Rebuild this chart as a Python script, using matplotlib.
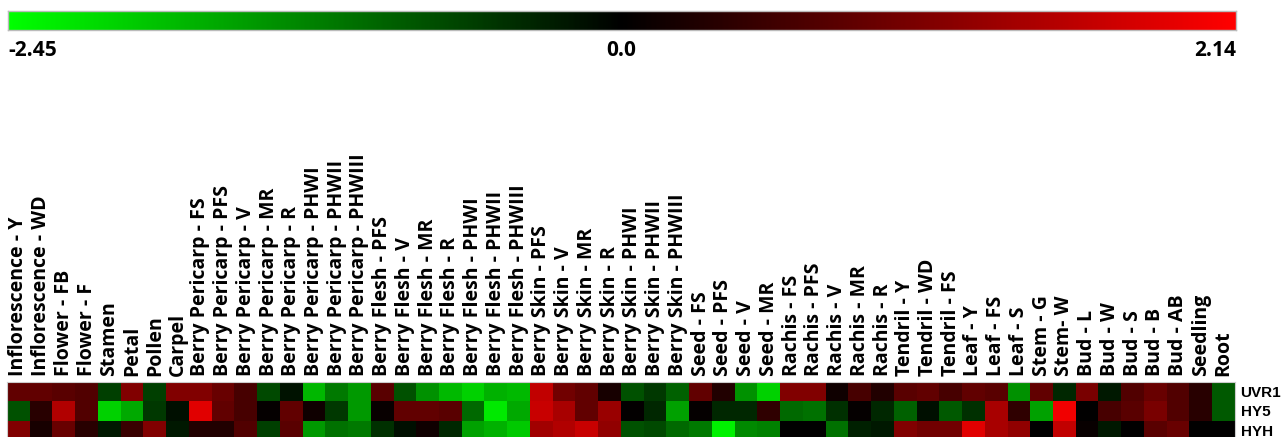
import matplotlib
matplotlib.use('Agg')
import matplotlib.pyplot as plt
import numpy as np
from matplotlib.colors import LinearSegmentedColormap, TwoSlopeNorm

# Expression heatmap (log ratio), green = low, red = high

samples = [
    'Inflorescence - Y', 'Inflorescence - WD', 'Flower - FB', 'Flower - F',
    'Stamen', 'Petal', 'Pollen', 'Carpel',
    'Berry Pericarp - FS', 'Berry Pericarp - PFS', 'Berry Pericarp - V',
    'Berry Pericarp - MR', 'Berry Pericarp - R', 'Berry Pericarp - PHWI',
    'Berry Pericarp - PHWII', 'Berry Pericarp - PHWIII',
    'Berry Flesh - PFS', 'Berry Flesh - V', 'Berry Flesh - MR',
    'Berry Flesh - R', 'Berry Flesh - PHWI', 'Berry Flesh - PHWII',
    'Berry Flesh - PHWIII',
    'Berry Skin - PFS', 'Berry Skin - V', 'Berry Skin - MR', 'Berry Skin - R',
    'Berry Skin - PHWI', 'Berry Skin - PHWII', 'Berry Skin - PHWIII',
    'Seed - FS', 'Seed - PFS', 'Seed - V', 'Seed - MR',
    'Rachis - FS', 'Rachis - PFS', 'Rachis - V', 'Rachis - MR', 'Rachis - R',
    'Tendril - Y', 'Tendril - WD', 'Tendril - FS',
    'Leaf - Y', 'Leaf - FS', 'Leaf - S',
    'Stem - G', 'Stem- W',
    'Bud - L', 'Bud - W', 'Bud - S', 'Bud - B', 'Bud - AB',
    'Seedling', 'Root',
]

genes = ['UVR1', 'HY5', 'HYH']

uvr1 = [0.81, 0.81, 0.75, 0.67, -0.61, 1.07, -0.61, 1.07, 1.07, 0.87,
        0.60, -0.69, -0.19, -1.75, -1.15, -1.46, 0.74, -0.77, -1.38, -1.77,
        -2.00, -1.69, -1.77, 1.61, 0.94, 0.81, 0.20, -0.77, -0.54, -0.92,
        0.81, 0.27, -1.38, -2.00, 1.07, 1.07, 0.13, 0.60, 0.27, 0.74,
        0.81, 0.60, 0.81, 0.74, -1.38, 0.81, -0.38, 1.01, -0.23, 0.67,
        0.87, 0.67, 0.34, -0.85]

hy5 = [-0.77, 0.34, 1.48, 0.67, -2.00, -1.61, -0.54, -0.15, 1.88, 0.81,
       0.60, 0.04, 0.81, 0.13, -0.54, -1.46, 0.07, 0.81, 0.81, 0.74,
       -1.00, -2.23, -1.61, 1.68, 1.41, 0.81, 1.28, 0.02, -0.38, -1.54,
       0.04, -0.38, -0.38, 0.40, -1.00, -1.08, -0.46, 0.04, -0.38, -0.92,
       -0.15, -0.85, -0.46, 1.41, 0.40, -1.54, 2.01, 0.00, 0.60, 0.74,
       1.01, 0.67, 0.34, -0.85]

hyh = [1.07, 0.20, 0.87, 0.34, -0.23, 0.47, 1.07, -0.23, 0.27, 0.27,
       0.67, -0.61, 0.74, -1.46, -1.08, -1.15, -0.46, -0.15, 0.13, -0.38,
       -1.54, -1.69, -1.92, 1.34, 1.48, 1.68, 1.21, -0.77, -0.69, -1.00,
       -1.15, -2.31, -1.31, -1.23, 0.00, 0.00, -1.08, -0.31, -0.23, 1.07,
       0.94, 0.94, 1.88, 1.41, 1.21, 0.00, 1.61, 0.07, -0.23, 0.00,
       0.74, 0.87, 0.00, 0.00]

vmin, vcenter, vmax = -2.45, 0.0, 2.14

cmap = LinearSegmentedColormap.from_list('gbr', ['#00ff00', '#000000', '#ff0000'])
norm = TwoSlopeNorm(vmin=vmin, vcenter=vcenter, vmax=vmax)

data = np.array([uvr1, hy5, hyh])

W, H = 1284, 437
fig = plt.figure(figsize=(W / 100, H / 100), dpi=100)

# colour scale bar on top
cax = fig.add_axes([8 / W, (H - 30) / H, 1228 / W, 19 / H])
cax.imshow(np.linspace(0, 1, 512)[None, :], aspect='auto', cmap=cmap)
cax.set_xticks([])
cax.set_yticks([])
for s in cax.spines.values():
    s.set_color('#bbbbbb')
    s.set_linewidth(1.0)

ty = (H - 51) / H
fkw = dict(fontsize=15, fontweight='bold', family='Open Sans', va='center')
fig.text(8 / W, ty, f'{vmin:.2f}', ha='left', **fkw)
fig.text(621 / W, ty, f'{vcenter:.1f}', ha='center', **fkw)
fig.text(1236 / W, ty, f'{vmax:.2f}', ha='right', **fkw)

# heatmap
ax = fig.add_axes([7 / W, (H - 440) / H, 1228 / W, 58 / H])
ax.imshow(data, aspect='auto', cmap=cmap, norm=norm, interpolation='nearest')

ax.xaxis.tick_top()
ax.set_xticks(np.arange(len(samples)))
ax.set_xticklabels(samples, rotation=90, fontsize=14, fontweight='bold',
                   family='Open Sans')
ax.yaxis.tick_right()
ax.set_yticks(np.arange(len(genes)))
ax.set_yticklabels(genes, fontsize=11, fontweight='bold', family='Liberation Sans')
ax.tick_params(length=0, pad=4)
for s in ax.spines.values():
    s.set_color('#cccccc')
    s.set_linewidth(0.8)

fig.savefig('out.png', dpi=100)
